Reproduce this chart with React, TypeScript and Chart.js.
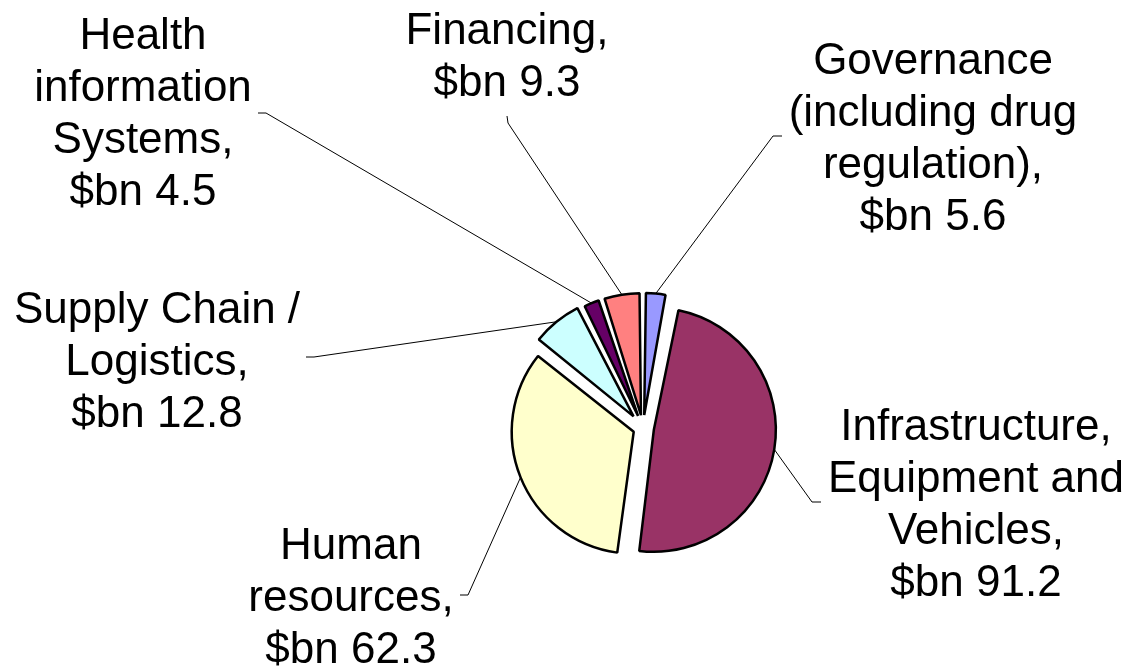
import React, { useEffect, useRef } from 'react';
import { Chart, registerables } from 'chart.js';

Chart.register(...registerables);

// ---- data ----
const categories = [
  'Governance\n(including drug\nregulation)',
  'Infrastructure,\nEquipment and\nVehicles',
  'Human\nresources',
  'Supply Chain /\nLogistics',
  'Health\ninformation\nSystems',
  'Financing',
];
const values = [5.6, 91.2, 62.3, 12.8, 4.5, 9.3];
const valuePrefix = '$bn ';

// ---- style ----
const colors = ['#9999FF', '#993366', '#FFFFCC', '#CCFFFF', '#660066', '#FF8080'];
const sliceShift = [13, 11, 10, 15, 13, 13]; // explosion distance in px
const RADIUS = 122;
// label anchors: centre x, first baseline y, leader start and elbow
const labelAnchors = [
  { x: 933, y: 74, sx: 782, sy: 136, ex: 773, ey: 136 },
  { x: 976, y: 440, sx: 821, sy: 502, ex: 812, ey: 502 },
  { x: 351, y: 559, sx: 460, sy: 595, ex: 468, ey: 595 },
  { x: 157, y: 323, sx: 306, sy: 357, ex: 314, ey: 357 },
  { x: 143, y: 49, sx: 258, sy: 113, ex: 266, ey: 113 },
  { x: 507, y: 44, sx: 507, sy: 116, ex: 508, ey: 123 },
];
const FONT = "44px 'Liberation Sans', Arial, sans-serif";
const LINE_H = 52;

function fixFor(circ: number) {
  return 1 - Math.sin(Math.min(Math.PI, circ || 0));
}

// keep every exploded slice at the same drawn radius
const radiusPlugin = {
  id: 'fixRadius',
  beforeDatasetsDraw(chart: any) {
    const meta = chart.getDatasetMeta(0);
    meta.data.forEach((arc: any) => {
      const off = (arc.options.offset || 0) / 4;
      arc.outerRadius = RADIUS - off * fixFor(arc.circumference);
    });
  },
};

const labelPlugin = {
  id: 'pieLabels',
  afterDatasetsDraw(chart: any) {
    const ctx = chart.ctx as CanvasRenderingContext2D;
    const meta = chart.getDatasetMeta(0);
    ctx.save();
    meta.data.forEach((arc: any, i: number) => {
      const { x, y, startAngle, endAngle } = arc;
      const off = (arc.options.offset || 0) / 4;
      const h = (startAngle + endAngle) / 2;
      const px = x + Math.cos(h) * (off + RADIUS);
      const py = y + Math.sin(h) * (off + RADIUS);
      const a = labelAnchors[i];
      ctx.beginPath();
      ctx.strokeStyle = '#000';
      ctx.lineWidth = 1;
      ctx.moveTo(a.sx, a.sy);
      ctx.lineTo(a.ex, a.ey);
      ctx.lineTo(px, py);
      ctx.stroke();

      const lines = (categories[i] + ',\n' + valuePrefix + values[i].toFixed(1)).split('\n');
      ctx.font = FONT;
      ctx.fillStyle = '#000';
      ctx.textAlign = 'center';
      ctx.textBaseline = 'alphabetic';
      lines.forEach((ln, k) => ctx.fillText(ln, a.x, a.y + k * LINE_H));
    });
    ctx.restore();
  },
};

export default function App() {
  const ref = useRef<HTMLCanvasElement>(null);
  useEffect(() => {
    if (!ref.current) return;
    const chart = new Chart(ref.current, {
      type: 'pie',
      data: {
        labels: categories,
        datasets: [
          {
            data: values,
            backgroundColor: colors,
            borderColor: '#000',
            borderWidth: 2.5,
            offset: sliceShift.map((s) => s * 4),
          } as any,
        ],
      },
      options: {
        responsive: false,
        animation: false,
        radius: RADIUS,
        layout: { padding: { left: 158, right: 0, top: 190, bottom: 0 } },
        plugins: { legend: { display: false }, tooltip: { enabled: false } },
      } as any,
      plugins: [radiusPlugin, labelPlugin],
    });
    return () => chart.destroy();
  }, []);
  return (
    <div style={{ position: 'fixed', left: 0, top: 0, width: 1128, height: 666, background: '#fff' }}>
      <canvas ref={ref} width={1128} height={666} style={{ display: 'block' }} />
    </div>
  );
}
